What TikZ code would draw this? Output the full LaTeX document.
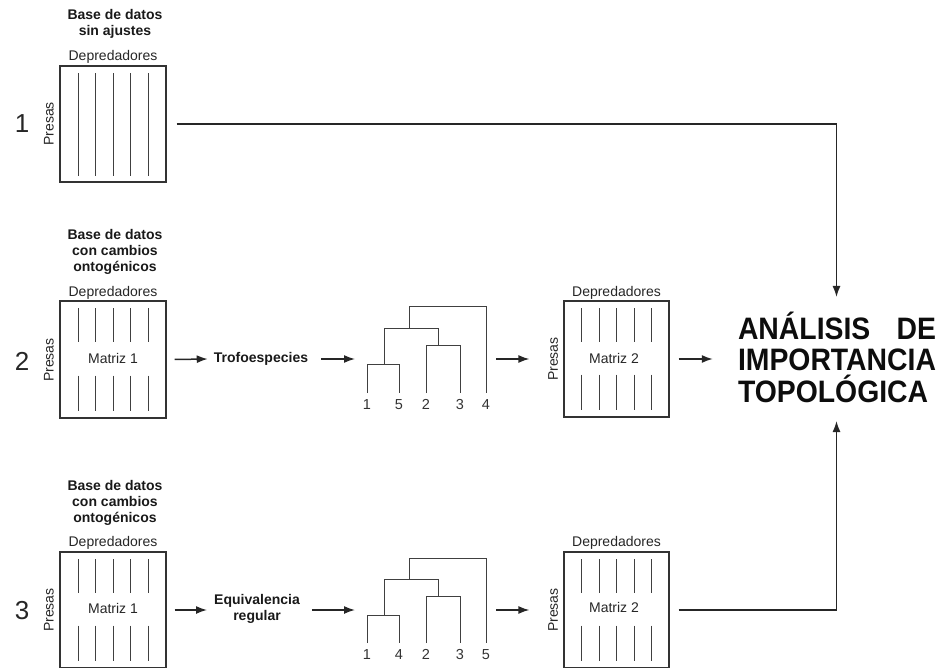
\documentclass[tikz,border=0pt]{standalone}
\usepackage{fontspec}
\usepackage{graphicx}
\setmainfont{Liberation Sans}
\usetikzlibrary{arrows.meta}
\newcommand\mlinesfull[1]{\foreach \dx in {-35,-17.5,0,17.5,35}{\draw[mline] ([xshift=\dx pt,yshift=-8pt]#1.north) -- ([xshift=\dx pt,yshift=7pt]#1.south);}}
\newcommand\mlinessplit[1]{\foreach \dx in {-35,-17.5,0,17.5,35}{\draw[mline] ([xshift=\dx pt,yshift=-8pt]#1.north) -- ([xshift=\dx pt,yshift=-42pt]#1.north);\draw[mline] ([xshift=\dx pt,yshift=43pt]#1.south) -- ([xshift=\dx pt,yshift=8pt]#1.south);}}
\begin{document}
\begin{tikzpicture}[x=1pt,y=-1pt,
  mbox/.style={draw=black!80,line width=1.2pt,minimum width=106pt,minimum height=116pt,inner sep=0pt},
  mline/.style={black!75,line width=0.9pt},
  lbl/.style={font=\fontsize{14}{16}\selectfont,inner sep=0pt,text=black!85},
  blbl/.style={font=\fontsize{14}{16}\selectfont\bfseries,inner sep=0pt,align=center,text=black!90},
  num/.style={font=\fontsize{26}{28}\selectfont,inner sep=0pt,text=black!85},
  leaf/.style={font=\fontsize{14.5}{16}\selectfont,inner sep=0pt,text=black!80,anchor=base},
  dend/.style={black!75,line width=1pt},
  arr/.style={black!85,line width=1.5pt,-{Latex[length=11pt,width=8pt]}}]
\useasboundingbox (0,0) rectangle (940,668);

% ---- row 1 ----
\node[blbl] (t1) at (115,24) {Base de datos\\sin ajustes};
\node[mbox] (b1) at (113,124) {};
\node[lbl] (d1) at (113,57) {Depredadores};
\node[lbl,rotate=90] (p1) at (49,124) {Presas};
\node[num] (n1) at (22,124) {1};
\mlinesfull{b1}

% ---- row 2 ----
\node[blbl] (t2) at (115,252) {Base de datos\\con cambios\\ontogénicos};
\node[mbox,minimum height=117pt] (b2) at (113,359.5) {};
\node[lbl] (d2) at (113,293) {Depredadores};
\node[lbl,rotate=90] (p2) at (49,360) {Presas};
\node[lbl] (mx2) at (113,358) {Matriz 1};
\node[num] (n2) at (22,361) {2};
\mlinessplit{b2}
\node[blbl] (trof) at (261,359) {Trofoespecies};

\node[mbox,minimum width=105pt] (c2) at (616.5,359) {};
\node[lbl] (e2) at (616.5,293) {Depredadores};
\node[lbl,rotate=90] (q2) at (553,359) {Presas};
\node[lbl] (my2) at (614,358) {Matriz 2};
\mlinessplit{c2}

% dendrogram row 2
\draw[dend] (367,393) -- (367,365) -- (399,365) -- (399,393);
\draw[dend] (426,393) -- (426,346) -- (460,346) -- (460,393);
\draw[dend] (384,365) -- (384,329) -- (438,329) -- (438,346);
\draw[dend] (409,329) -- (409,307) -- (486,307) -- (486,393);
\node[leaf] (l21) at (367,409) {1};
\node[leaf] (l25) at (399,409) {5};
\node[leaf] (l22) at (426,409) {2};
\node[leaf] (l23) at (460,409) {3};
\node[leaf] (l24) at (486,409) {4};
\coordinate (g2in) at (355,359);
\coordinate (g2out) at (496,359);

% ---- row 3 ----
\node[blbl] (t3) at (115,503) {Base de datos\\con cambios\\ontogénicos};
\node[mbox] (b3) at (113,610) {};
\node[lbl] (d3) at (113,543) {Depredadores};
\node[lbl,rotate=90] (p3) at (49,610) {Presas};
\node[lbl] (mx3) at (113,608) {Matriz 1};
\node[num] (n3) at (22,611) {3};
\mlinessplit{b3}
\node[blbl] (equi) at (257,609) {Equivalencia\\regular};

\node[mbox,minimum width=105pt] (c3) at (616.5,610) {};
\node[lbl] (e3) at (616.5,543) {Depredadores};
\node[lbl,rotate=90] (q3) at (553,610) {Presas};
\node[lbl] (my3) at (614,607) {Matriz 2};
\mlinessplit{c3}

% dendrogram row 3
\draw[dend] (367,643) -- (367,615) -- (399,615) -- (399,643);
\draw[dend] (426,643) -- (426,596) -- (460,596) -- (460,643);
\draw[dend] (384,615) -- (384,579) -- (438,579) -- (438,596);
\draw[dend] (409,579) -- (409,558) -- (486,558) -- (486,643);
\node[leaf] (l31) at (367,659) {1};
\node[leaf] (l34) at (399,659) {4};
\node[leaf] (l32) at (426,659) {2};
\node[leaf] (l33) at (460,659) {3};
\node[leaf] (l35) at (486,659) {5};
\coordinate (g3in) at (355,610);
\coordinate (g3out) at (496,610);

% ---- result ----
\node[inner sep=0pt,font=\fontsize{31}{31.5}\selectfont\bfseries,text=black!95] (ana) at (837,357)
  {\scalebox{0.915}[1]{\vbox{\baselineskip=31.5pt\lineskiplimit=-20pt\setbox0=\hbox{IMPORTANCIA}\hbox to \wd0{ANÁLISIS\hfill DE}\hbox{IMPORTANCIA}\hbox{TOPOLÓGICA}}}};
\coordinate (atop) at (836.5,297);
\coordinate (abot) at (836.5,421);

% ---- connectors ----
\draw[arr] ([xshift=10pt]b1.east) -| (atop);
\draw[arr] ([xshift=8pt]b2.east) -- ([xshift=-6pt]trof.west);
\draw[arr] ([xshift=13pt]trof.east) -- (g2in);
\draw[arr] (g2out) -- ([xshift=-34pt]c2.west);
\draw[arr] ([xshift=9pt]c2.east) -- ([xshift=-25pt]c2.east -| ana.west);
\draw[arr] ([xshift=8pt]b3.east) -- ([xshift=-7pt]b3.east -| equi.west);
\draw[arr] ([xshift=12pt]b3.east -| equi.east) -- (g3in);
\draw[arr] (g3out) -- ([xshift=-34pt]c3.west);
\draw[arr] ([xshift=9pt]c3.east) -| (abot);
\end{tikzpicture}
\end{document}
